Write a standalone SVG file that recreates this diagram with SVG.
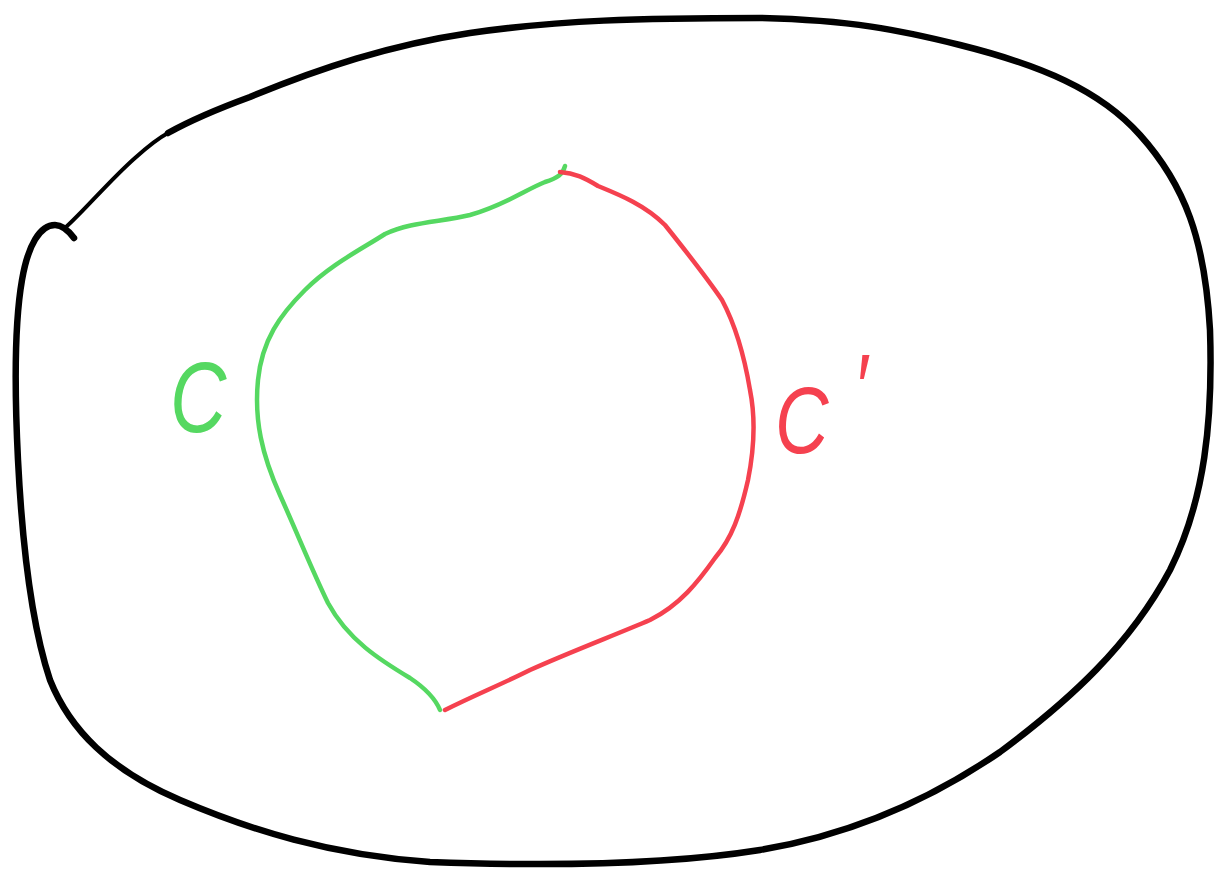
<svg xmlns="http://www.w3.org/2000/svg" width="1215" height="877" viewBox="0 0 1215 877">
<style>
.outer{fill:none;stroke:#000;stroke-width:6.5;stroke-linecap:round;stroke-linejoin:round}
.thin{fill:none;stroke:#000;stroke-width:4;stroke-linecap:round;stroke-linejoin:round}
.g{fill:none;stroke:#55d861;stroke-width:4.5;stroke-linecap:round;stroke-linejoin:round}
.r{fill:none;stroke:#f5414f;stroke-width:4.5;stroke-linecap:round;stroke-linejoin:round}
.lbl{font-family:"Liberation Sans",Arial,sans-serif;font-style:italic}
</style>
<rect width="1215" height="877" fill="#fff"/>
<g id="region">
<path class="thin" d="M65,228 C85,210 110,180 135,158 C145,149 155,140 168,133"/>
<path class="outer" d="M168,133 C195,118 220,108 250,97 C320,68 390,45 470,33 C560,20 640,18 760,18 C850,20 900,30 960,45 C1040,65 1100,90 1140,135 C1185,185 1205,240 1210,330 C1213,420 1205,500 1170,570 C1130,645 1070,700 1000,752 C930,800 850,835 760,850 C660,866 540,866 430,862 C330,855 250,830 180,800 C110,770 70,730 50,680 C30,620 22,540 18,460 C14,380 15,320 22,280 C28,245 40,225 55,225 C62,225 68,230 74,238"/>
</g>
<g id="curves">
<path id="c" class="g" d="M565,166 C563,174 558,178 545,182 C525,190 505,205 470,215 C440,222 410,222 385,234 C360,250 330,265 305,290 C280,315 262,340 258,380 C254,420 262,455 280,495 C298,535 312,570 328,603 C348,640 380,660 410,678 C425,688 435,698 440,710"/>
<path id="cprime" class="r" d="M560,172 C575,173 585,178 598,186 C620,195 645,205 665,225 C685,250 705,275 722,300 C738,330 745,360 750,390 C756,420 754,450 748,480 C740,515 732,538 715,558 C698,582 680,605 650,620 C615,635 570,652 530,670 C500,685 475,695 445,710"/>
</g>
<g id="labels">
<text class="lbl" x="0" y="0" transform="translate(170,432) scale(0.78,1)" font-size="100" fill="#55d861">C</text>
<text class="lbl" x="0" y="0" transform="translate(775,453) scale(0.78,1)" font-size="95" fill="#f5414f">C<tspan dx="32" dy="-33" font-size="95">′</tspan></text>
</g>
</svg>
